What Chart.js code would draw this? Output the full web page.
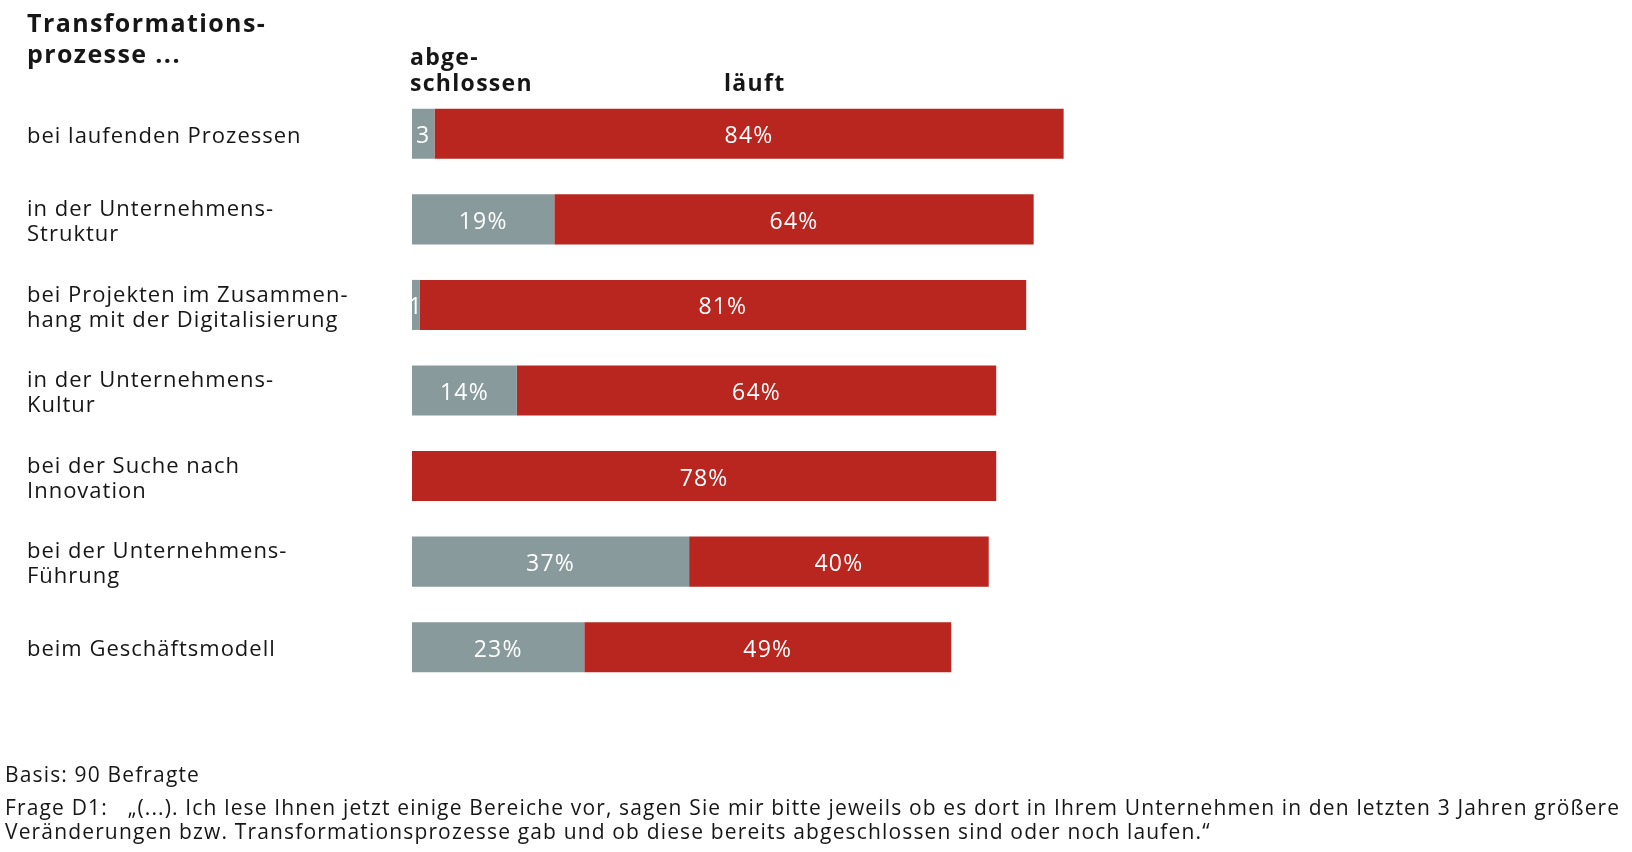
<!DOCTYPE html>
<html lang="de">
<head>
<meta charset="utf-8">
<script src="https://cdn.jsdelivr.net/npm/chart.js@4"></script>
<style>
  html, body { margin: 0; padding: 0; background: #fff; }
  #wrap { position: relative; width: 1632px; height: 852px; font-family: "Open Sans", Lato, sans-serif; color: #161616; }
  #chart { position: absolute; left: 0; top: 0; }
  .txt { position: absolute; white-space: nowrap; }
  .head { font-weight: bold; font-size: 25px; line-height: 31px; letter-spacing: 1.4px; }
  .col { font-weight: bold; font-size: 23px; line-height: 26px; letter-spacing: 1.3px; }
  .foot { font-size: 21px; line-height: 24px; letter-spacing: 1.15px; }
</style>
</head>
<body>
<div id="wrap">
  <canvas id="chart" width="1632" height="852"></canvas>
  <div class="txt head" style="left:27px; top:7px;">Transformations-<br>prozesse ...</div>
  <div class="txt col" style="left:410px; top:43px;">abge-<br>schlossen</div>
  <div class="txt col" style="left:724px; top:69px;">läuft</div>
  <div class="txt foot" style="left:5px; top:762px;">Basis: 90 Befragte</div>
  <div class="txt foot" style="left:5px; top:795px;">Frage D1:&nbsp;&nbsp;&nbsp;„(...). Ich lese Ihnen jetzt einige Bereiche vor, sagen Sie mir bitte jeweils ob es dort in Ihrem Unternehmen in den letzten 3 Jahren größere<br>Veränderungen bzw. Transformationsprozesse gab und ob diese bereits abgeschlossen sind oder noch laufen.“</div>
</div>
<script>
  var categories = [
    'bei laufenden Prozessen',
    ['in der Unternehmens-', 'Struktur'],
    ['bei Projekten im Zusammen-', 'hang mit der Digitalisierung'],
    ['in der Unternehmens-', 'Kultur'],
    ['bei der Suche nach', 'Innovation'],
    ['bei der Unternehmens-', 'Führung'],
    'beim Geschäftsmodell'
  ];
  var abgeschlossen = [3, 19, 1, 14, 0, 37, 23];
  var laeuft = [84, 64, 81, 64, 78, 40, 49];

  // wider tracking for all canvas text, like the original typeface
  var tracking = {
    id: 'tracking',
    beforeDraw: function (chart) { chart.ctx.letterSpacing = '1px'; },
    afterDraw: function (chart) { chart.ctx.letterSpacing = '0px'; }
  };

  // white value labels centred inside each bar segment
  var barLabels = {
    id: 'barLabels',
    afterDatasetsDraw: function (chart) {
      var ctx = chart.ctx;
      ctx.save();
      ctx.fillStyle = '#ffffff';
      ctx.font = '23px "Open Sans", Lato, sans-serif';
      ctx.letterSpacing = '1.2px';
      ctx.textAlign = 'center';
      ctx.textBaseline = 'middle';
      chart.data.datasets.forEach(function (ds, i) {
        var meta = chart.getDatasetMeta(i);
        meta.data.forEach(function (bar, j) {
          var v = ds.data[j];
          if (!v) return;
          var text = v < 5 ? String(v) : v + '%';
          ctx.fillText(text, (bar.x + bar.base) / 2, bar.y + 3);
        });
      });
      ctx.restore();
    }
  };

  var chart = new Chart(document.getElementById('chart').getContext('2d'), {
    type: 'bar',
    data: {
      labels: categories,
      datasets: [{
        label: 'abgeschlossen',
        data: abgeschlossen,
        backgroundColor: '#899a9c',
        barPercentage: 1,
        categoryPercentage: 0.585
      }, {
        label: 'läuft',
        data: laeuft,
        backgroundColor: '#b92620',
        barPercentage: 1,
        categoryPercentage: 0.585
      }]
    },
    options: {
      indexAxis: 'y',
      responsive: false,
      animation: false,
      layout: { padding: { left: 27, right: 471, top: 91, bottom: 162 } },
      plugins: {
        legend: { display: false },
        tooltip: { enabled: false }
      },
      scales: {
        x: {
          stacked: true,
          min: 0,
          max: 100,
          display: false
        },
        y: {
          stacked: true,
          grid: { display: false },
          border: { display: false },
          afterFit: function (scale) { scale.width = 385; },
          ticks: {
            crossAlign: 'far',
            color: '#161616',
            padding: 0,
            labelOffset: 3,
            font: { family: '"Open Sans", Lato, sans-serif', size: 22, lineHeight: 1.14 }
          }
        }
      }
    },
    plugins: [tracking, barLabels]
  });
</script>
</body>
</html>
